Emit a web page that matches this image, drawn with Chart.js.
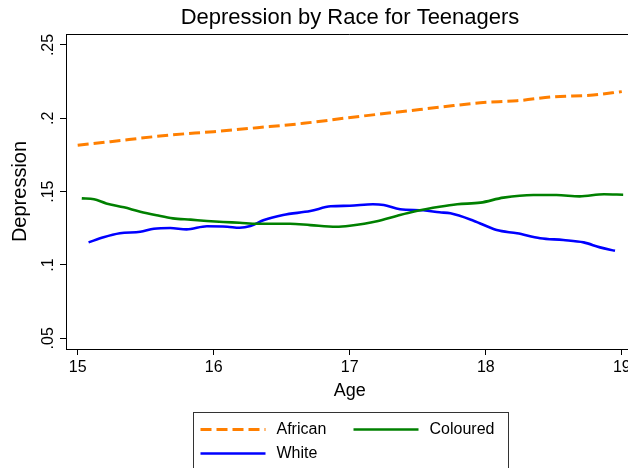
<!DOCTYPE html>
<html>
<head>
<meta charset="utf-8">
<title>Depression by Race for Teenagers</title>
<script src="https://cdn.jsdelivr.net/npm/chart.js@4.4.1/dist/chart.umd.min.js"></script>
<style>
    html, body { margin: 0; padding: 0; background: #fff; width: 628px; height: 468px; overflow: hidden; }
    canvas { display: block; }
</style>
</head>
<body>
<canvas id="depressionChart" width="700" height="468"></canvas>
<script>
// values (age in years, mean depression score)
const africanAges = [15.00, 15.24, 15.68, 16.00, 16.32, 16.66, 16.99, 17.42, 17.69, 17.96, 18.23, 18.50, 18.79, 19.00];
const africanValues = [0.1816, 0.1841, 0.1886, 0.1909, 0.1936, 0.1966, 0.2004, 0.2050, 0.2079, 0.2106, 0.2120, 0.2147, 0.2159, 0.2182];

const colouredAges = [15.03, 15.12, 15.21, 15.34, 15.46, 15.58, 15.70, 15.83, 15.95, 16.07, 16.19, 16.32, 16.41, 16.56, 16.71,
    16.90, 17.00, 17.20, 17.35, 17.49, 17.66, 17.79, 17.96, 18.13, 18.35, 18.52, 18.69, 18.87, 19.01];
const colouredValues = [0.1454, 0.1448, 0.1420, 0.1393, 0.1363, 0.1339, 0.1318, 0.1309, 0.1300, 0.1293, 0.1288, 0.1281, 0.1281, 0.1281, 0.1272,
    0.1261, 0.1268, 0.1298, 0.1336, 0.1368, 0.1397, 0.1414, 0.1425, 0.1459, 0.1477, 0.1477, 0.1468, 0.1482, 0.1479];

const whiteAges = [15.08, 15.19, 15.31, 15.46, 15.56, 15.68, 15.80, 15.95, 16.10, 16.19, 16.27, 16.37, 16.51, 16.71, 16.86,
    17.00, 17.17, 17.25, 17.37, 17.54, 17.66, 17.74, 17.91, 18.08, 18.23, 18.40, 18.57, 18.72, 18.84, 18.95];
const whiteValues = [0.1154, 0.1189, 0.1216, 0.1227, 0.1247, 0.1252, 0.1243, 0.1264, 0.1261, 0.1254, 0.1266, 0.1307, 0.1341, 0.1368, 0.1400,
    0.1404, 0.1414, 0.1409, 0.1380, 0.1373, 0.1359, 0.1352, 0.1302, 0.1238, 0.1216, 0.1182, 0.1170, 0.1154, 0.1120, 0.1097];

const xTickValues = [15, 16, 17, 18, 19];
const yTickValues = [0.05, 0.10, 0.15, 0.20, 0.25];
const yTickLabels = [".05", ".1", ".15", ".2", ".25"];

const FONT = "'Liberation Sans', Arial, Helvetica, sans-serif";

const toPoints = (ages, values) => ages.map((a, i) => ({ x: a, y: values[i] }));

// y tick labels are drawn rotated (reading upwards) and the legend sits in a framed box
const stataFrame = {
    id: "stataFrame",
    afterDraw(chart) {
        const { ctx, chartArea: area, scales } = chart;
        ctx.save();

        // top edge of the plot region
        ctx.strokeStyle = "#000";
        ctx.lineWidth = 1;
        ctx.beginPath();
        ctx.moveTo(area.left, Math.round(area.top) + 0.5);
        ctx.lineTo(area.right, Math.round(area.top) + 0.5);
        ctx.stroke();

        ctx.fillStyle = "#000";
        ctx.font = `16px ${FONT}`;
        ctx.textAlign = "center";
        ctx.textBaseline = "alphabetic";
        scales.y.ticks.forEach((tick, i) => {
            const y = scales.y.getPixelForValue(tick.value);
            ctx.save();
            ctx.translate(53, y);
            ctx.rotate(-Math.PI / 2);
            ctx.fillText(yTickLabels[i], 0, 0);
            ctx.restore();
        });

        // legend box
        const cx = chart.width / 2;
        const boxLeft = cx - 157.5;
        ctx.strokeStyle = "#333";
        ctx.strokeRect(Math.round(boxLeft) + 0.5, 412.5, 315, 80);

        ctx.font = `16px ${FONT}`;
        ctx.textAlign = "left";
        ctx.textBaseline = "middle";
        chart.data.datasets.forEach((ds, i) => {
            const col = i % 2;
            const row = Math.floor(i / 2);
            const sx = boxLeft + 8 + col * 153;
            const sy = 429.5 + row * 24;
            ctx.strokeStyle = ds.borderColor;
            ctx.lineWidth = ds.borderWidth;
            ctx.setLineDash(ds.borderDash || []);
            ctx.beginPath();
            ctx.moveTo(sx, sy);
            ctx.lineTo(sx + 65, sy);
            ctx.stroke();
            ctx.setLineDash([]);
            ctx.fillStyle = "#000";
            ctx.fillText(ds.label, sx + 76, sy);
        });

        ctx.restore();
    }
};

const ctx = document.getElementById("depressionChart").getContext("2d");
const depressionChart = new Chart(ctx, {
    type: "line",
    data: {
        datasets: [{
            label: "African",
            data: toPoints(africanAges, africanValues),
            borderColor: "rgb(255, 127, 0)",
            borderWidth: 3,
            borderDash: [11, 5],
            pointRadius: 0,
            cubicInterpolationMode: "monotone",
            fill: false
        }, {
            label: "Coloured",
            data: toPoints(colouredAges, colouredValues),
            borderColor: "rgb(0, 128, 0)",
            borderWidth: 2.6,
            pointRadius: 0,
            cubicInterpolationMode: "monotone",
            fill: false
        }, {
            label: "White",
            data: toPoints(whiteAges, whiteValues),
            borderColor: "rgb(0, 0, 255)",
            borderWidth: 2.6,
            pointRadius: 0,
            cubicInterpolationMode: "monotone",
            fill: false
        }]
    },
    options: {
        responsive: false,
        animation: false,
        devicePixelRatio: 1,
        color: "#000",
        font: { family: FONT },
        layout: { padding: { left: 0, right: 0, top: 0, bottom: 63 } },
        plugins: {
            legend: { display: false },
            tooltip: { enabled: false },
            title: {
                display: true,
                text: "Depression by Race for Teenagers",
                color: "#000",
                font: { family: FONT, size: 22, weight: "normal" },
                padding: { top: 5, bottom: 2.6 }
            }
        },
        scales: {
            x: {
                type: "linear",
                min: 14.914,
                max: 19.086,
                afterBuildTicks: (scale) => { scale.ticks = xTickValues.map(v => ({ value: v })); },
                afterFit: (scale) => { scale.height = 56; },
                grid: { drawOnChartArea: false, drawTicks: true, tickLength: 6, color: "#000" },
                border: { display: true, color: "#000", width: 1 },
                ticks: {
                    color: "#000",
                    padding: 3,
                    font: { family: FONT, size: 16 },
                    callback: (v) => String(v)
                },
                title: {
                    display: true,
                    text: "Age",
                    color: "#000",
                    font: { family: FONT, size: 18 },
                    padding: { top: 0, bottom: 3 }
                }
            },
            y: {
                type: "linear",
                min: 0.0427,
                max: 0.2575,
                afterBuildTicks: (scale) => { scale.ticks = yTickValues.map(v => ({ value: v })); },
                afterFit: (scale) => { scale.width = 66; },
                grid: { drawOnChartArea: false, drawTicks: true, tickLength: 6, color: "#000" },
                border: { display: true, color: "#000", width: 1 },
                ticks: { display: false },
                title: {
                    display: true,
                    text: "Depression",
                    color: "#000",
                    font: { family: FONT, size: 20 },
                    padding: { top: 8, bottom: 0 }
                }
            },
            // empty right-hand axis keeps the plot region off the right edge, as in the original
            yRight: {
                type: "linear",
                position: "right",
                display: true,
                afterFit: (scale) => { scale.width = 66.5; },
                grid: { display: false },
                border: { display: false },
                ticks: { display: false }
            }
        }
    },
    plugins: [stataFrame]
});
</script>
</body>
</html>
